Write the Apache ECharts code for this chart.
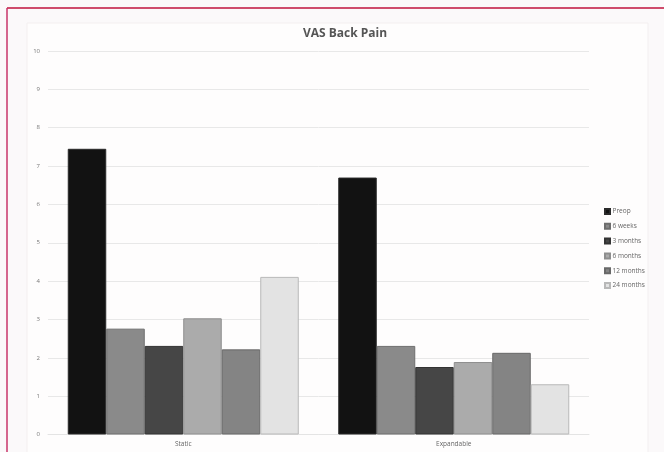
<!DOCTYPE html>
<html>
<head>
<meta charset="utf-8">
<script src="https://cdn.jsdelivr.net/npm/echarts@6/dist/echarts.min.js"></script>
<style>
  html, body { margin: 0; padding: 0; background: #fbf9fa; }
  #chart { width: 664px; height: 452px; }
</style>
</head>
<body>
<div id="chart"></div>
<script>
// VAS back pain scores by implant type and follow-up time
const categories = ['Static', 'Expandable'];
const seriesNames = ['Preop', '6 weeks', '3 months', '6 months', '12 months', '24 months'];
const preop    = [7.45, 6.70];
const weeks6   = [2.76, 2.31];
const months3  = [2.31, 1.76];
const months6  = [3.03, 1.89];
const months12 = [2.22, 2.13];
const months24 = [4.11, 1.31];
const yTicks = [0, 1, 2, 3, 4, 5, 6, 7, 8, 9, 10];

const seriesData = [preop, weeks6, months3, months6, months12, months24];
const fills   = ['#121212', '#8a8a8a', '#464646', '#ababab', '#848484', '#e3e3e3'];
const borders = ['#2a2a2a', '#6e6e6e', '#333333', '#8e8e8e', '#686868', '#b8b8b8'];

const chart = echarts.init(document.getElementById('chart'), null, { renderer: 'canvas' });

chart.setOption({
  backgroundColor: '#fbf9fa',
  animation: false,
  graphic: [
    { type: 'rect', z: -10, shape: { x: 27, y: 23, width: 621, height: 440 },
      style: { fill: '#fefdfd', stroke: '#f3eff0', lineWidth: 1 } },
    { type: 'line', z: 10, shape: { x1: 7, y1: 8, x2: 664, y2: 8 },
      style: { stroke: '#c0123d', lineWidth: 1.5 } },
    { type: 'line', z: 10, shape: { x1: 7, y1: 8, x2: 7, y2: 452 },
      style: { stroke: '#c8356a', lineWidth: 1.5 } }
  ],
  title: {
    text: 'VAS Back Pain',
    left: 340, top: 23, textAlign: 'center',
    textStyle: { fontFamily: 'Open Sans', fontSize: 12, fontWeight: 'bold', color: '#555555' }
  },
  legend: {
    orient: 'vertical',
    left: 599, top: 203,
    itemWidth: 5, itemHeight: 5, itemGap: 7.8,
    icon: 'rect',
    data: seriesNames,
    textStyle: { fontFamily: 'Open Sans', fontSize: 6.5, color: '#666666', padding: [0, 0, 0, -2.5] }
  },
  grid: { left: 48, right: 75, top: 51, bottom: 17.5 },
  xAxis: {
    type: 'category',
    data: categories,
    axisLine: { show: true, lineStyle: { color: '#e4e4e4' } },
    axisTick: { show: false },
    axisLabel: { fontFamily: 'Open Sans', fontSize: 6.5, color: '#666666', margin: 6 }
  },
  yAxis: {
    type: 'value',
    min: yTicks[0], max: yTicks[yTicks.length - 1], interval: 1,
    axisLine: { show: false },
    axisTick: { show: false },
    axisLabel: { fontFamily: 'Open Sans', fontSize: 6, color: '#777777', margin: 8 },
    splitLine: { lineStyle: { color: '#e8e8e8', width: 1 } }
  },
  series: seriesNames.map((name, i) => ({
    name,
    type: 'bar',
    data: seriesData[i],
    barWidth: 38.5,
    barGap: '0%',
    itemStyle: { color: fills[i], borderColor: borders[i], borderWidth: 1 }
  }))
});
</script>
</body>
</html>
